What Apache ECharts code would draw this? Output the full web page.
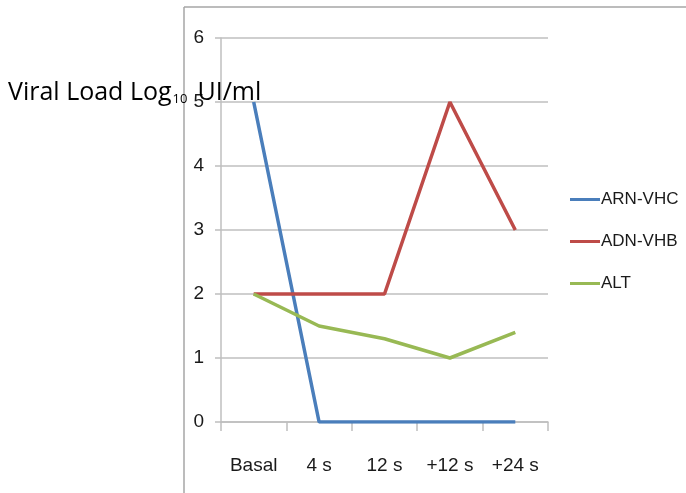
<!DOCTYPE html>
<html><head><meta charset="utf-8">
<script src="https://cdn.jsdelivr.net/npm/echarts@6/dist/echarts.min.js"></script>
<style>html,body{margin:0;padding:0;background:#fff}#c{width:686px;height:493px}</style>
</head><body><div id="c"></div>
<script>
const categories = ['Basal', '4 s', '12 s', '+12 s', '+24 s'];
const arnVhc = [5, 0, 0, 0, 0];
const adnVhb = [2, 2, 2, 5, 3];
const alt = [2, 1.5, 1.3, 1.0, 1.4];
const seriesNames = ['ARN-VHC', 'ADN-VHB', 'ALT'];
const colors = ['#4A7EBB', '#BE4B48', '#98B954'];
const yTicks = [0, 1, 2, 3, 4, 5, 6];

const narrow = '"Liberation Sans Narrow", "Liberation Sans", sans-serif';
const chart = echarts.init(document.getElementById('c'));
const mk = (name, data, color) => ({
  name, type: 'line', data, symbol: 'none', smooth: false,
  lineStyle: { color, width: 3.5 }, itemStyle: { color }
});
chart.setOption({
  animation: false,
  grid: { left: 221, right: 138, top: 38, bottom: 71, containLabel: false },
  xAxis: {
    type: 'category', data: categories, boundaryGap: true,
    axisLine: { show: true, lineStyle: { color: '#BFBFBF', width: 1.5 } },
    axisTick: { show: true, length: 9, lineStyle: { color: '#BFBFBF', width: 1.5 } },
    axisLabel: { color: '#1a1a1a', fontSize: 19, fontFamily: narrow, margin: 34 }
  },
  yAxis: {
    type: 'value', min: yTicks[0], max: yTicks[yTicks.length - 1], interval: 1,
    axisLine: { show: true, lineStyle: { color: '#BFBFBF', width: 1.5 } },
    axisTick: { show: true, length: 6, lineStyle: { color: '#BFBFBF', width: 1.5 } },
    splitLine: { show: true, lineStyle: { color: '#BFBFBF', width: 1.5 } },
    axisLabel: { color: '#1a1a1a', fontSize: 19, fontFamily: narrow, margin: 17 }
  },
  legend: {
    orient: 'vertical', left: 565, top: 186, itemWidth: 30, itemHeight: 14, itemGap: 25,
    icon: 'path://M0,5.5 L30,5.5 L30,8.5 L0,8.5 Z',
    textStyle: { color: '#1a1a1a', fontSize: 17, fontFamily: narrow, padding: [0, 0, 0, -4] },
    data: seriesNames
  },
  series: [
    mk(seriesNames[0], arnVhc, colors[0]),
    mk(seriesNames[1], adnVhb, colors[1]),
    mk(seriesNames[2], alt, colors[2])
  ],
  graphic: [
    { type: 'line', shape: { x1: 184, y1: 7, x2: 686, y2: 7 }, style: { stroke: '#A6A6A6', lineWidth: 1.5 } },
    { type: 'line', shape: { x1: 184, y1: 7, x2: 184, y2: 493 }, style: { stroke: '#A6A6A6', lineWidth: 1.5 } },
    { type: 'text', left: 8, top: 80, z: 10,
      style: {
        text: '{a|Viral Load Log}{s|10}{b|UI/ml}',
        rich: {
          a: { fontSize: 25, fontFamily: '"Open Sans", "Liberation Sans", sans-serif', fill: '#000' },
          s: { fontSize: 13, fontFamily: '"Open Sans", "Liberation Sans", sans-serif', fill: '#000', verticalAlign: 'bottom', padding: [14, 0, 0, 1] },
          b: { fontSize: 25, fontFamily: '"Open Sans", "Liberation Sans", sans-serif', fill: '#000', padding: [0, 0, 0, 10] }
        }
      } }
  ]
});
</script></body></html>
